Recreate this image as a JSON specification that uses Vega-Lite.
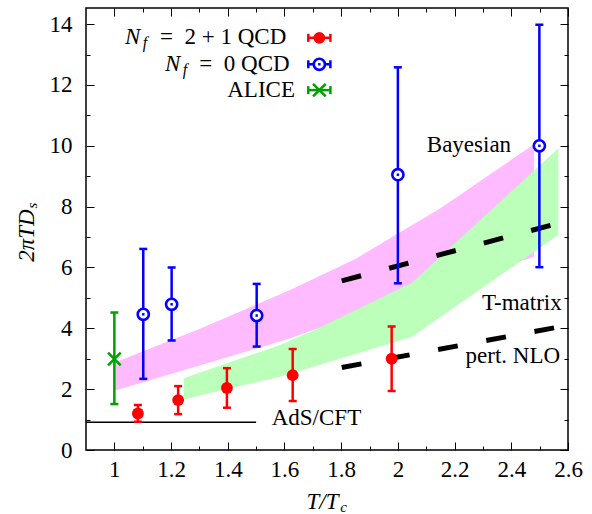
{
  "$schema": "https://vega.github.io/schema/vega-lite/v6.json",
  "width": 482,
  "height": 442,
  "autosize": "none",
  "padding": {"left": 86, "top": 8, "right": 24, "bottom": 64},
  "background": "white",
  "config": {
    "view": {"stroke": "black", "strokeWidth": 1.5},
    "axis": {"tickColor": "black", "tickWidth": 1, "labelColor": "black", "labelFont": "Liberation Serif", "labelFontSize": 23, "titleColor": "black", "titleFont": "Liberation Serif", "zindex": 1, "grid": false, "domain": false}
  },
  "datasets": {
    "bayes": [
      {"T": 1.0, "lo": 1.95, "hi": 2.87},
      {"T": 1.3, "lo": 2.78, "hi": 3.98},
      {"T": 1.62, "lo": 3.67, "hi": 5.26},
      {"T": 1.85, "lo": 4.43, "hi": 6.28},
      {"T": 2.15, "lo": 5.34, "hi": 7.95},
      {"T": 2.48, "lo": 6.35, "hi": 10.05}
    ],
    "tmatrix": [
      {"T": 1.245, "lo": 1.67, "hi": 2.36},
      {"T": 1.584, "lo": 2.41, "hi": 3.45},
      {"T": 1.708, "lo": 2.75, "hi": 3.95},
      {"T": 2.05, "lo": 3.72, "hi": 5.5},
      {"T": 2.566, "lo": 7.07, "hi": 9.92}
    ],
    "curves": [
      {"c": "a", "T": 1.802, "D": 5.56},
      {"c": "a", "T": 2.56, "D": 7.44},
      {"c": "b", "T": 1.802, "D": 2.71},
      {"c": "b", "T": 2.56, "D": 4.03}
    ],
    "ads": [
      {"T": 0.9, "D": 0.91},
      {"T": 1.5, "D": 0.91}
    ],
    "pts": [
      {"kind": "data", "set": "Nf=2+1", "T": 1.083, "D": 1.2, "lo": 0.93, "hi": 1.48},
      {"kind": "data", "set": "Nf=2+1", "T": 1.225, "D": 1.64, "lo": 1.18, "hi": 2.1},
      {"kind": "data", "set": "Nf=2+1", "T": 1.397, "D": 2.04, "lo": 1.39, "hi": 2.69},
      {"kind": "data", "set": "Nf=2+1", "T": 1.629, "D": 2.46, "lo": 1.61, "hi": 3.32},
      {"kind": "data", "set": "Nf=2+1", "T": 1.978, "D": 3.0, "lo": 1.94, "hi": 4.06},
      {"kind": "data", "set": "Nf=0", "T": 1.102, "D": 4.46, "lo": 2.34, "hi": 6.61},
      {"kind": "data", "set": "Nf=0", "T": 1.202, "D": 4.79, "lo": 3.6, "hi": 6.0},
      {"kind": "data", "set": "Nf=0", "T": 1.502, "D": 4.42, "lo": 3.4, "hi": 5.46},
      {"kind": "data", "set": "Nf=0", "T": 2.0, "D": 9.05, "lo": 5.48, "hi": 12.58},
      {"kind": "data", "set": "Nf=0", "T": 2.499, "D": 10.0, "lo": 6.01, "hi": 13.98},
      {"kind": "data", "set": "ALICE", "T": 1.0, "D": 2.99, "lo": 1.51, "hi": 4.52},
      {"kind": "key", "set": "Nf=2+1", "T": 1.723, "D": 13.55, "Tlo": 1.684, "Thi": 1.762},
      {"kind": "key", "set": "Nf=0", "T": 1.723, "D": 12.68, "Tlo": 1.684, "Thi": 1.762},
      {"kind": "key", "set": "ALICE", "T": 1.723, "D": 11.83, "Tlo": 1.684, "Thi": 1.762}
    ],
    "labelsL": [
      {"text": "Bayesian", "T": 2.102, "D": 9.81},
      {"text": "AdS/CFT", "T": 1.555, "D": 0.82},
      {"text": "=\u00a0\u00a02\u00a0+\u00a01 QCD", "T": 1.161, "D": 13.35},
      {"text": "=\u00a0\u00a00 QCD", "T": 1.2997, "D": 12.47}
    ],
    "labelsR": [
      {"text": "T-matrix", "T": 2.578, "D": 4.6},
      {"text": "pert. NLO", "T": 2.572, "D": 2.85},
      {"text": "ALICE", "T": 1.637, "D": 11.6}
    ],
    "italN": [
      {"text": "N", "T": 1.0376, "D": 13.35},
      {"text": "N", "T": 1.1787, "D": 12.47}
    ],
    "italf": [
      {"text": "f", "T": 1.1, "D": 13.35},
      {"text": "f", "T": 1.241, "D": 12.47}
    ]
  },
  "resolve": {"scale": {"x": "shared", "y": "shared"}, "axis": {"x": "independent", "y": "independent"}},
  "layer": [
    {
      "data": {"name": "bayes"},
      "mark": {"type": "area", "color": "#ffbbff", "opacity": 1},
      "encoding": {
        "x": {"field": "T", "type": "quantitative", "scale": {"domain": [0.9, 2.6], "nice": false, "zero": false},
          "axis": {"orient": "bottom", "values": [1, 1.2, 1.4, 1.6, 1.8, 2, 2.2, 2.4, 2.6], "format": "~g", "ticks": false, "domain": false, "grid": false, "labelFont": "Liberation Serif", "labelFontSize": 23, "labelPadding": 26.7, "labelBaseline": "alphabetic", "labelFlush": false, "labelOverlap": false, "title": "T/T", "titleX": 236, "titleY": 58, "titleAlign": "center", "titleBaseline": "alphabetic", "titleFontStyle": "italic", "titleFontWeight": "normal", "titleFontSize": 23, "titleAngle": 0}},
        "y": {"field": "lo", "type": "quantitative", "scale": {"domain": [0, 14.53], "nice": false, "zero": false},
          "axis": {"orient": "left", "values": [0, 2, 4, 6, 8, 10, 12, 14], "format": "d", "ticks": false, "domain": false, "grid": false, "labelFont": "Liberation Serif", "labelFontSize": 23, "labelPadding": 14, "labelFlush": false, "labelOverlap": false, "title": "2πTD", "titleX": -53, "titleY": 227, "titleAngle": 270, "titleAlign": "center", "titleBaseline": "alphabetic", "titleFontStyle": "italic", "titleFontWeight": "normal", "titleFontSize": 23}},
        "y2": {"field": "hi"}
      }
    },
    {
      "data": {"name": "tmatrix"},
      "mark": {"type": "area", "color": "#bbffbb", "opacity": 1},
      "encoding": {
        "x": {"field": "T", "type": "quantitative", "scale": {"domain": [0.9, 2.6], "nice": false, "zero": false},
          "axis": {"orient": "bottom", "values": [1, 1.2, 1.4, 1.6, 1.8, 2, 2.2, 2.4, 2.6], "labels": false, "tickSize": -8, "domain": false, "grid": false, "title": "c", "titleX": 257, "titleY": 61, "titleAlign": "center", "titleBaseline": "alphabetic", "titleFontStyle": "italic", "titleFontWeight": "normal", "titleFontSize": 15, "titleAngle": 0}},
        "y": {"field": "lo", "type": "quantitative", "scale": {"domain": [0, 14.53], "nice": false, "zero": false},
          "axis": {"orient": "left", "values": [0, 2, 4, 6, 8, 10, 12, 14], "labels": false, "tickSize": -8, "domain": false, "grid": false, "title": "s", "titleX": -50, "titleY": 197, "titleAngle": 270, "titleAlign": "center", "titleBaseline": "alphabetic", "titleFontStyle": "italic", "titleFontWeight": "normal", "titleFontSize": 15}},
        "y2": {"field": "hi"}
      }
    },
    {
      "data": {"name": "curves"},
      "mark": {"type": "line", "color": "black", "strokeWidth": 5, "strokeDash": [20, 29]},
      "encoding": {
        "x": {"field": "T", "type": "quantitative", "scale": {"domain": [0.9, 2.6], "nice": false, "zero": false},
          "axis": {"orient": "bottom", "values": [1.1, 1.3, 1.5, 1.7, 1.9, 2.1, 2.3, 2.5], "labels": false, "tickSize": -4, "domain": false, "grid": false, "title": null}},
        "y": {"field": "D", "type": "quantitative", "scale": {"domain": [0, 14.53], "nice": false, "zero": false},
          "axis": {"orient": "left", "values": [1, 3, 5, 7, 9, 11, 13], "labels": false, "tickSize": -4, "domain": false, "grid": false, "title": null}},
        "detail": {"field": "c"}
      }
    },
    {
      "data": {"name": "ads"},
      "mark": {"type": "line", "color": "black", "strokeWidth": 1.5},
      "encoding": {
        "x": {"field": "T", "type": "quantitative", "scale": {"domain": [0.9, 2.6], "nice": false, "zero": false},
          "axis": {"orient": "top", "values": [1, 1.2, 1.4, 1.6, 1.8, 2, 2.2, 2.4, 2.6], "labels": false, "tickSize": -8, "domain": false, "grid": false, "title": null}},
        "y": {"field": "D", "type": "quantitative", "scale": {"domain": [0, 14.53], "nice": false, "zero": false},
          "axis": {"orient": "right", "values": [0, 2, 4, 6, 8, 10, 12, 14], "labels": false, "tickSize": -8, "domain": false, "grid": false, "title": null}}
      }
    },
    {
      "data": {"name": "pts"},
      "transform": [{"filter": "datum.kind == 'data'"}],
      "mark": {"type": "rule", "strokeWidth": 2.5},
      "encoding": {
        "x": {"field": "T", "type": "quantitative", "scale": {"domain": [0.9, 2.6], "nice": false, "zero": false},
          "axis": {"orient": "top", "values": [1.1, 1.3, 1.5, 1.7, 1.9, 2.1, 2.3, 2.5], "labels": false, "tickSize": -4, "domain": false, "grid": false, "title": null}},
        "y": {"field": "lo", "type": "quantitative", "scale": {"domain": [0, 14.53], "nice": false, "zero": false},
          "axis": {"orient": "right", "values": [1, 3, 5, 7, 9, 11, 13], "labels": false, "tickSize": -4, "domain": false, "grid": false, "title": null}},
        "y2": {"field": "hi"},
        "color": {"field": "set", "type": "nominal", "scale": {"domain": ["Nf=2+1", "Nf=0", "ALICE"], "range": ["#ff0000", "#0000ff", "#00a000"]}, "legend": null}
      }
    },
    {
      "data": {"name": "pts"},
      "transform": [{"filter": "datum.kind == 'data'"}],
      "mark": {"type": "tick", "orient": "horizontal", "size": 8, "thickness": 2.5, "opacity": 1},
      "encoding": {
        "x": {"field": "T", "type": "quantitative", "scale": {"domain": [0.9, 2.6], "nice": false, "zero": false}, "axis": null},
        "y": {"field": "lo", "type": "quantitative", "scale": {"domain": [0, 14.53], "nice": false, "zero": false}, "axis": null},
        "color": {"field": "set", "type": "nominal", "scale": {"domain": ["Nf=2+1", "Nf=0", "ALICE"], "range": ["#ff0000", "#0000ff", "#00a000"]}, "legend": null}
      }
    },
    {
      "data": {"name": "pts"},
      "transform": [{"filter": "datum.kind == 'data'"}],
      "mark": {"type": "tick", "orient": "horizontal", "size": 8, "thickness": 2.5, "opacity": 1},
      "encoding": {
        "x": {"field": "T", "type": "quantitative", "scale": {"domain": [0.9, 2.6], "nice": false, "zero": false}, "axis": null},
        "y": {"field": "hi", "type": "quantitative", "scale": {"domain": [0, 14.53], "nice": false, "zero": false}, "axis": null},
        "color": {"field": "set", "type": "nominal", "scale": {"domain": ["Nf=2+1", "Nf=0", "ALICE"], "range": ["#ff0000", "#0000ff", "#00a000"]}, "legend": null}
      }
    },
    {
      "data": {"name": "pts"},
      "transform": [{"filter": "datum.kind == 'key'"}],
      "mark": {"type": "rule", "strokeWidth": 2.5},
      "encoding": {
        "x": {"field": "Tlo", "type": "quantitative", "scale": {"domain": [0.9, 2.6], "nice": false, "zero": false}, "axis": null},
        "x2": {"field": "Thi"},
        "y": {"field": "D", "type": "quantitative", "scale": {"domain": [0, 14.53], "nice": false, "zero": false}, "axis": null},
        "color": {"field": "set", "type": "nominal", "scale": {"domain": ["Nf=2+1", "Nf=0", "ALICE"], "range": ["#ff0000", "#0000ff", "#00a000"]}, "legend": null}
      }
    },
    {
      "data": {"name": "pts"},
      "transform": [{"filter": "datum.kind == 'key'"}],
      "mark": {"type": "tick", "orient": "vertical", "size": 8, "thickness": 2.5, "opacity": 1},
      "encoding": {
        "x": {"field": "Tlo", "type": "quantitative", "scale": {"domain": [0.9, 2.6], "nice": false, "zero": false}, "axis": null},
        "y": {"field": "D", "type": "quantitative", "scale": {"domain": [0, 14.53], "nice": false, "zero": false}, "axis": null},
        "color": {"field": "set", "type": "nominal", "scale": {"domain": ["Nf=2+1", "Nf=0", "ALICE"], "range": ["#ff0000", "#0000ff", "#00a000"]}, "legend": null}
      }
    },
    {
      "data": {"name": "pts"},
      "transform": [{"filter": "datum.kind == 'key'"}],
      "mark": {"type": "tick", "orient": "vertical", "size": 8, "thickness": 2.5, "opacity": 1},
      "encoding": {
        "x": {"field": "Thi", "type": "quantitative", "scale": {"domain": [0.9, 2.6], "nice": false, "zero": false}, "axis": null},
        "y": {"field": "D", "type": "quantitative", "scale": {"domain": [0, 14.53], "nice": false, "zero": false}, "axis": null},
        "color": {"field": "set", "type": "nominal", "scale": {"domain": ["Nf=2+1", "Nf=0", "ALICE"], "range": ["#ff0000", "#0000ff", "#00a000"]}, "legend": null}
      }
    },
    {
      "data": {"name": "pts"},
      "transform": [{"filter": "datum.set == 'Nf=2+1'"}],
      "mark": {"type": "circle", "size": 140, "color": "#ff0000", "opacity": 1},
      "encoding": {
        "x": {"field": "T", "type": "quantitative", "scale": {"domain": [0.9, 2.6], "nice": false, "zero": false}, "axis": null},
        "y": {"field": "D", "type": "quantitative", "scale": {"domain": [0, 14.53], "nice": false, "zero": false}, "axis": null}
      }
    },
    {
      "data": {"name": "pts"},
      "transform": [{"filter": "datum.set == 'Nf=0'"}],
      "mark": {"type": "point", "shape": "circle", "filled": false, "size": 125, "strokeWidth": 2.6, "color": "#0000ff", "fill": "white", "fillOpacity": 1, "opacity": 1},
      "encoding": {
        "x": {"field": "T", "type": "quantitative", "scale": {"domain": [0.9, 2.6], "nice": false, "zero": false}, "axis": null},
        "y": {"field": "D", "type": "quantitative", "scale": {"domain": [0, 14.53], "nice": false, "zero": false}, "axis": null}
      }
    },
    {
      "data": {"name": "pts"},
      "transform": [{"filter": "datum.set == 'Nf=0'"}],
      "mark": {"type": "square", "size": 6, "color": "#0000ff", "opacity": 1},
      "encoding": {
        "x": {"field": "T", "type": "quantitative", "scale": {"domain": [0.9, 2.6], "nice": false, "zero": false}, "axis": null},
        "y": {"field": "D", "type": "quantitative", "scale": {"domain": [0, 14.53], "nice": false, "zero": false}, "axis": null}
      }
    },
    {
      "data": {"name": "pts"},
      "transform": [{"filter": "datum.set == 'ALICE'"}],
      "mark": {"type": "point", "shape": "M-1,-1L1,1M-1,1L1,-1", "filled": false, "size": 160, "strokeWidth": 2.5, "color": "#00a000", "opacity": 1},
      "encoding": {
        "x": {"field": "T", "type": "quantitative", "scale": {"domain": [0.9, 2.6], "nice": false, "zero": false}, "axis": null},
        "y": {"field": "D", "type": "quantitative", "scale": {"domain": [0, 14.53], "nice": false, "zero": false}, "axis": null}
      }
    },
    {
      "data": {"name": "labelsL"},
      "mark": {"type": "text", "align": "left", "baseline": "alphabetic", "font": "Liberation Serif", "fontSize": 23, "color": "black"},
      "encoding": {
        "x": {"field": "T", "type": "quantitative", "scale": {"domain": [0.9, 2.6], "nice": false, "zero": false}, "axis": null},
        "y": {"field": "D", "type": "quantitative", "scale": {"domain": [0, 14.53], "nice": false, "zero": false}, "axis": null},
        "text": {"field": "text"}
      }
    },
    {
      "data": {"name": "labelsR"},
      "mark": {"type": "text", "align": "right", "baseline": "alphabetic", "font": "Liberation Serif", "fontSize": 23, "color": "black"},
      "encoding": {
        "x": {"field": "T", "type": "quantitative", "scale": {"domain": [0.9, 2.6], "nice": false, "zero": false}, "axis": null},
        "y": {"field": "D", "type": "quantitative", "scale": {"domain": [0, 14.53], "nice": false, "zero": false}, "axis": null},
        "text": {"field": "text"}
      }
    },
    {
      "data": {"name": "italN"},
      "mark": {"type": "text", "align": "left", "baseline": "alphabetic", "font": "Liberation Serif", "fontStyle": "italic", "fontSize": 23, "color": "black"},
      "encoding": {
        "x": {"field": "T", "type": "quantitative", "scale": {"domain": [0.9, 2.6], "nice": false, "zero": false}, "axis": null},
        "y": {"field": "D", "type": "quantitative", "scale": {"domain": [0, 14.53], "nice": false, "zero": false}, "axis": null},
        "text": {"field": "text"}
      }
    },
    {
      "data": {"name": "italf"},
      "mark": {"type": "text", "align": "left", "baseline": "alphabetic", "dy": 4, "font": "Liberation Serif", "fontStyle": "italic", "fontSize": 16, "color": "black"},
      "encoding": {
        "x": {"field": "T", "type": "quantitative", "scale": {"domain": [0.9, 2.6], "nice": false, "zero": false}, "axis": null},
        "y": {"field": "D", "type": "quantitative", "scale": {"domain": [0, 14.53], "nice": false, "zero": false}, "axis": null},
        "text": {"field": "text"}
      }
    }
  ]
}
